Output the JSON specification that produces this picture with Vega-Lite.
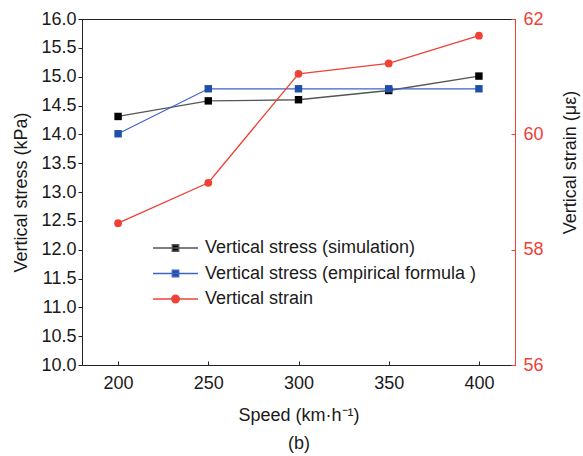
{
  "$schema": "https://vega.github.io/schema/vega-lite/v6.json",
  "width": 433,
  "height": 346,
  "autosize": {"type": "none"},
  "padding": {"left": 82, "top": 19, "right": 68, "bottom": 91},
  "background": "white",
  "config": {
    "font": "Liberation Sans",
    "view": {"stroke": "#222222", "strokeWidth": 1},
    "axis": {"grid": false, "labelFontSize": 18, "titleFontSize": 18, "titleFontWeight": "normal", "labelColor": "#1a1a1a", "titleColor": "#1a1a1a", "domainColor": "#222222", "tickColor": "#222222"}
  },
  "data": {
    "values": [
      {"speed": 200, "series": "Vertical stress (simulation)", "kind": "stress", "value": 14.31},
      {"speed": 250, "series": "Vertical stress (simulation)", "kind": "stress", "value": 14.58},
      {"speed": 300, "series": "Vertical stress (simulation)", "kind": "stress", "value": 14.60},
      {"speed": 350, "series": "Vertical stress (simulation)", "kind": "stress", "value": 14.76},
      {"speed": 400, "series": "Vertical stress (simulation)", "kind": "stress", "value": 15.01},
      {"speed": 200, "series": "Vertical stress (empirical formula )", "kind": "stress", "value": 14.01},
      {"speed": 250, "series": "Vertical stress (empirical formula )", "kind": "stress", "value": 14.79},
      {"speed": 300, "series": "Vertical stress (empirical formula )", "kind": "stress", "value": 14.79},
      {"speed": 350, "series": "Vertical stress (empirical formula )", "kind": "stress", "value": 14.79},
      {"speed": 400, "series": "Vertical stress (empirical formula )", "kind": "stress", "value": 14.79},
      {"speed": 200, "series": "Vertical strain", "kind": "strain", "value": 58.46},
      {"speed": 250, "series": "Vertical strain", "kind": "strain", "value": 59.16},
      {"speed": 300, "series": "Vertical strain", "kind": "strain", "value": 61.05},
      {"speed": 350, "series": "Vertical strain", "kind": "strain", "value": 61.23},
      {"speed": 400, "series": "Vertical strain", "kind": "strain", "value": 61.71}
    ]
  },
  "encoding": {
    "x": {
      "field": "speed", "type": "quantitative",
      "scale": {"domain": [180, 420], "nice": false, "zero": false},
      "axis": {"values": [200, 250, 300, 350, 400], "tickSize": -4, "labelPadding": 13, "title": ["Speed (km·h⁻¹)", "(b)"], "titleLineHeight": 28, "titleY": 41, "titleBaseline": "top"}
    },
    "color": {
      "field": "series", "type": "nominal",
      "scale": {"domain": ["Vertical stress (simulation)", "Vertical stress (empirical formula )", "Vertical strain"], "range": ["#555555", "#3d64c8", "#ef4136"]},
      "legend": {
        "orient": "none", "legendX": 83.5, "legendY": 219, "title": null, "padding": 0,
        "symbolSize": 324, "labelOffset": 19.5, "rowPadding": 6.5, "labelFontSize": 18, "labelColor": "#1a1a1a", "labelLimit": 400,
        "encode": {
          "symbols": {
            "update": {
              "shape": {"signal": "datum.value === 'Vertical strain' ? 'M-2.5,0L2.5,0M-0.42,0A0.42,0.42 0 1,0 0.42,0A0.42,0.42 0 1,0 -0.42,0Z' : 'M-2.5,0L2.5,0M-0.36,-0.36L0.36,-0.36L0.36,0.36L-0.36,0.36Z'"},
              "fill": {"signal": "datum.value === 'Vertical strain' ? '#ef4136' : datum.value === 'Vertical stress (simulation)' ? '#000000' : '#1f4fa8'"},
              "stroke": {"signal": "datum.value === 'Vertical strain' ? '#ef4136' : datum.value === 'Vertical stress (simulation)' ? '#555555' : '#3d64c8'"},
              "strokeWidth": {"value": 1.3},
              "opacity": {"value": 1},
              "fillOpacity": {"value": 1}
            }
          }
        }
      }
    }
  },
  "layer": [
    {
      "transform": [{"filter": {"field": "kind", "equal": "stress"}}],
      "encoding": {
        "y": {
          "field": "value", "type": "quantitative",
          "scale": {"domain": [10, 16], "nice": false, "zero": false},
          "axis": {"orient": "left", "values": [10, 10.5, 11, 11.5, 12, 12.5, 13, 13.5, 14, 14.5, 15, 15.5, 16], "format": ".1f", "tickSize": 4, "labelPadding": 2, "title": "Vertical stress (kPa)", "titleAngle": 270, "titleX": -61, "titleY": 173, "titleAlign": "center", "titleBaseline": "middle"}
        }
      },
      "layer": [
        {"mark": {"type": "line", "strokeWidth": 1.3}},
        {
          "mark": {"type": "point", "shape": "square", "filled": true, "size": 55, "opacity": 1, "strokeWidth": 0},
          "encoding": {
            "fill": {"field": "series", "type": "nominal", "scale": {"domain": ["Vertical stress (simulation)", "Vertical stress (empirical formula )", "Vertical strain"], "range": ["#000000", "#1f4fa8", "#ef4136"]}, "legend": null}
          }
        }
      ]
    },
    {
      "transform": [{"filter": {"field": "kind", "equal": "strain"}}],
      "encoding": {
        "y": {
          "field": "value", "type": "quantitative",
          "scale": {"domain": [56, 62], "nice": false, "zero": false},
          "axis": {"orient": "right", "values": [56, 58, 60, 62], "tickSize": -4, "labelPadding": 12, "labelColor": "#ef4136", "domainColor": "#ef4136", "tickColor": "#ef4136", "title": "Vertical strain (με)", "titleAngle": 270, "titleX": 55, "titleY": 143, "titleAlign": "center", "titleBaseline": "middle"}
        }
      },
      "layer": [
        {"mark": {"type": "line", "strokeWidth": 1.3}},
        {
          "mark": {"type": "point", "shape": "circle", "filled": true, "size": 60, "opacity": 1, "strokeWidth": 0},
          "encoding": {
            "fill": {"field": "series", "type": "nominal", "scale": {"domain": ["Vertical stress (simulation)", "Vertical stress (empirical formula )", "Vertical strain"], "range": ["#000000", "#1f4fa8", "#ef4136"]}, "legend": null}
          }
        }
      ]
    }
  ],
  "resolve": {"scale": {"y": "independent"}}
}
